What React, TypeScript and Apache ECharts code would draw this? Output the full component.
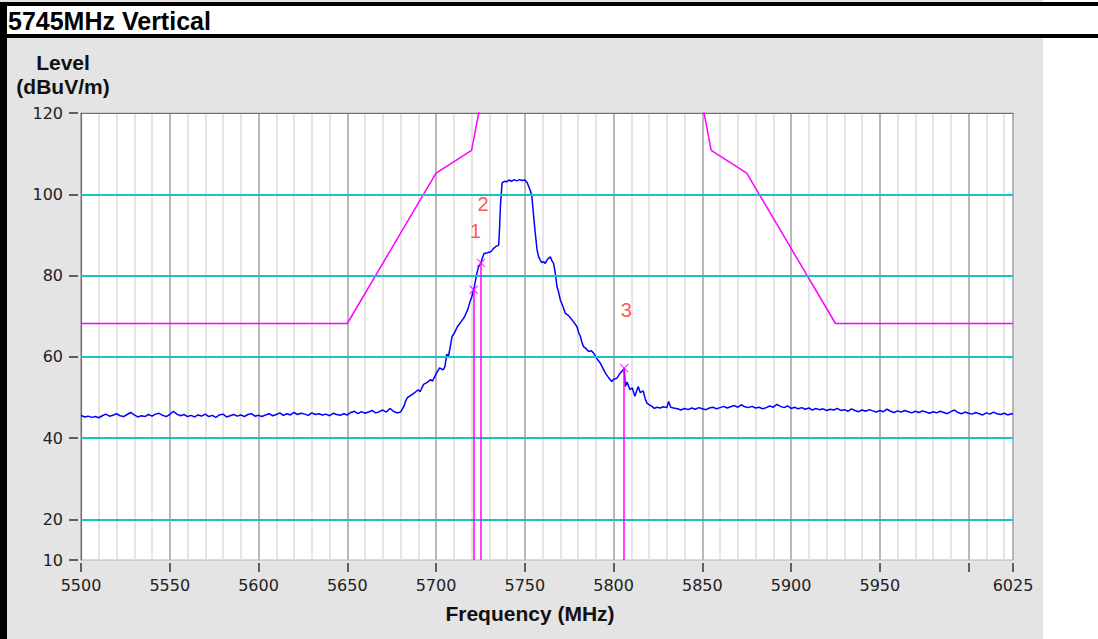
import React, { useEffect, useRef } from "react";
import * as echarts from "echarts";

const titleText = "5745MHz Vertical";
const yNameLines = ["Level", "(dBuV/m)"];
const xName = "Frequency (MHz)";

const xLabelValues = [5500, 5550, 5600, 5650, 5700, 5750, 5800, 5850, 5900, 5950, 6025];
const xTickValues = [5500, 5550, 5600, 5650, 5700, 5750, 5800, 5850, 5900, 5950, 6000, 6025];
const yLabelValues = [10, 20, 40, 60, 80, 100, 120];
const cyanLevels = [20, 40, 60, 80, 100];

const limitFreq = [5500, 5650, 5700, 5720, 5725, 5850, 5855, 5875, 5925, 6025];
const limitLevel = [68.2, 68.2, 105.2, 110.8, 122.2, 122.2, 110.8, 105.2, 68.2, 68.2];

const markerNames = ["1", "2", "3"];
const markerFreq = [5721.2, 5725.3, 5806.0];
const markerLevel = [76.5, 83.1, 57.2];

const trace: [number, number][] = [
  [5500, 45.6], [5502, 45.2], [5504, 45.4], [5506, 45.1], [5508, 45.3], [5510, 45.0], [5512, 45.5], [5514, 45.9],
  [5516, 45.4], [5518, 45.6], [5520, 46.0], [5522, 45.5], [5524, 45.3], [5526, 45.8], [5528, 46.3], [5530, 45.7],
  [5532, 45.2], [5534, 45.5], [5536, 45.3], [5538, 45.8], [5540, 45.4], [5542, 45.9], [5544, 46.1], [5546, 45.6],
  [5548, 45.3], [5550, 45.8], [5552, 46.6], [5554, 45.9], [5556, 45.5], [5558, 45.8], [5560, 45.3], [5562, 45.6],
  [5564, 45.2], [5566, 45.7], [5568, 45.4], [5570, 45.9], [5572, 45.3], [5574, 45.6], [5576, 45.1], [5578, 45.7],
  [5580, 45.9], [5582, 45.2], [5584, 45.5], [5586, 45.8], [5588, 45.4], [5590, 45.7], [5592, 45.3], [5594, 45.8],
  [5596, 46.0], [5598, 45.4], [5600, 45.6], [5602, 45.3], [5604, 45.7], [5606, 46.0], [5608, 45.5], [5610, 45.8],
  [5612, 46.2], [5614, 45.6], [5616, 46.0], [5618, 45.7], [5620, 46.3], [5622, 45.8], [5624, 46.1], [5626, 45.9],
  [5628, 45.6], [5630, 46.2], [5632, 45.8], [5634, 46.0], [5636, 45.7], [5638, 45.9], [5640, 45.5], [5642, 46.1],
  [5644, 45.8], [5646, 45.6], [5648, 46.0], [5650, 45.7], [5652, 46.3], [5654, 46.6], [5656, 46.0], [5658, 46.5],
  [5660, 46.1], [5662, 46.4], [5664, 46.8], [5666, 46.2], [5668, 46.5], [5670, 46.9], [5672, 46.4], [5674, 47.3],
  [5676, 46.6], [5678, 46.2], [5680, 46.4],
  [5682, 47.9], [5683, 49.3], [5684, 50.0], [5686, 50.6], [5688, 51.2], [5690, 51.9], [5691, 51.4], [5693, 53.2],
  [5695, 53.7], [5697, 54.4], [5698, 54.0], [5700, 55.8], [5702, 57.3], [5704, 56.8], [5705, 57.6], [5706, 60.6],
  [5707, 60.2], [5708, 62.4], [5709, 65.0], [5710, 65.6], [5712, 67.4], [5714, 68.6], [5716, 69.8], [5718, 71.8],
  [5719, 73.4], [5720, 74.6], [5721.2, 76.5], [5722, 78.3], [5723, 80.6], [5724, 82.2], [5725.3, 83.1], [5726, 84.2],
  [5727, 85.4], [5729, 85.6], [5731, 85.9], [5732, 86.5], [5733.5, 87.1], [5735.3, 87.5], [5735.8, 92.0], [5736.3, 97.5],
  [5737.2, 102.8], [5738.5, 103.2], [5740, 103.1], [5741, 103.5], [5742.5, 103.2], [5744, 103.6], [5745.5, 103.3],
  [5747, 103.6], [5748.5, 103.4], [5750, 103.5], [5751.3, 102.9], [5752.2, 101.9], [5753.2, 100.8], [5754, 99.4],
  [5755, 94.5], [5755.9, 90.4], [5756.9, 86.3], [5757.8, 84.6], [5758.7, 83.8], [5759.6, 83.2], [5760.6, 83.4],
  [5761.5, 83.0], [5762.5, 83.8], [5763.5, 84.3], [5764.4, 84.6], [5765.3, 83.6], [5766.2, 83.0], [5767.2, 80.5],
  [5768.1, 77.3], [5769, 76.0], [5770, 74.0], [5771.5, 72.4], [5772.8, 70.7], [5774.5, 70.2], [5776.6, 69.1],
  [5778, 68.3], [5779.4, 67.4], [5780.3, 66.0], [5781.3, 65.0], [5782.2, 63.5], [5783.1, 62.5], [5784.5, 62.0],
  [5786, 61.3], [5787.5, 61.5], [5788.8, 60.9], [5790.5, 59.6], [5792.6, 58.4], [5794, 57.2], [5795.4, 56.0],
  [5797, 55.0], [5798.2, 54.3], [5799, 53.9], [5800, 54.5], [5801.8, 54.7], [5803.7, 56.0], [5805, 56.5],
  [5806, 57.2], [5806.6, 52.7], [5807.6, 53.8], [5809.2, 51.9], [5810.5, 52.4], [5812, 50.3], [5813.9, 52.7],
  [5815, 51.2], [5816.7, 51.6], [5817.8, 49.7], [5818.8, 48.6], [5820, 48.2], [5821.6, 47.8], [5823, 47.3],
  [5824.5, 47.6], [5826.3, 47.4], [5828, 47.7], [5830, 47.5], [5831, 49.0], [5832.2, 47.6], [5833.8, 47.4],
  [5836, 47.2], [5838, 46.9], [5840, 47.3], [5842, 47.0], [5844, 47.4], [5846, 47.1], [5848, 47.5], [5850, 47.2],
  [5852, 47.0], [5854, 47.4], [5856, 47.6], [5858, 47.2], [5860, 47.5], [5862, 47.8], [5864, 47.4], [5866, 47.7],
  [5868, 48.0], [5870, 47.6], [5872, 48.2], [5874, 47.7], [5876, 47.5], [5878, 47.8], [5880, 47.4], [5882, 47.6],
  [5884, 47.2], [5886, 47.5], [5888, 47.9], [5890, 47.6], [5892, 48.3], [5894, 47.8], [5896, 47.5], [5898, 47.9],
  [5900, 47.3], [5902, 47.6], [5904, 47.2], [5906, 47.5], [5908, 47.1], [5910, 47.4], [5912, 46.9], [5914, 47.3],
  [5916, 47.0], [5918, 47.2], [5920, 46.8], [5922, 47.1], [5924, 46.9], [5926, 47.3], [5928, 46.8], [5930, 47.0],
  [5932, 46.6], [5934, 47.2], [5936, 46.8], [5938, 46.5], [5940, 46.9], [5942, 46.6], [5944, 47.0], [5946, 46.7],
  [5948, 46.4], [5950, 46.8], [5952, 46.5], [5954, 47.1], [5956, 46.6], [5958, 46.3], [5960, 46.7], [5962, 46.4],
  [5964, 46.8], [5966, 46.5], [5968, 46.2], [5970, 46.6], [5972, 46.3], [5974, 46.7], [5976, 46.4], [5978, 46.1],
  [5980, 46.5], [5982, 46.2], [5984, 46.6], [5986, 46.3], [5988, 46.0], [5990, 46.5], [5992, 46.9], [5994, 46.3],
  [5996, 46.0], [5998, 46.4], [6000, 46.1], [6002, 45.9], [6004, 46.3], [6006, 46.0], [6008, 45.7], [6010, 46.2],
  [6012, 45.9], [6014, 46.4], [6016, 46.0], [6018, 45.8], [6020, 46.1], [6022, 45.7], [6024, 46.0], [6025, 45.9],
];

const X_MIN = 5500;
const X_MAX = 6025;
const Y_MIN = 10;
const Y_MAX = 120;

const tickFont = "'DejaVu Sans', sans-serif";
const boldFont = "'Liberation Sans', Arial, sans-serif";

export default function App() {
  const ref = useRef<HTMLDivElement>(null);

  useEffect(() => {
    if (!ref.current) return;
    const chart = echarts.init(ref.current, undefined, { renderer: "svg" });
    const hiddenX = {
      type: "value",
      min: X_MIN,
      max: X_MAX,
      axisLine: { show: false },
      axisTick: { show: false },
      axisLabel: { show: false },
    };
    chart.setOption({
      animation: false,
      grid: {
        left: 81,
        top: 113,
        width: 932,
        height: 447,
        show: true,
        backgroundColor: "#ffffff",
        borderColor: "#b4b4b4",
        borderWidth: 1,
      },
      xAxis: [
        {
          type: "value",
          min: X_MIN,
          max: X_MAX,
          position: "bottom",
          offset: 3,
          axisLine: { show: false },
          axisTick: {
            show: true,
            customValues: xTickValues,
            length: 9,
            lineStyle: { color: "#333", width: 1.5 },
          },
          axisLabel: {
            customValues: xLabelValues,
            formatter: (v: number) => String(v),
            fontSize: 16,
            fontFamily: tickFont,
            color: "#222",
            margin: 14,
          },
          splitLine: { show: false },
        },
        {
          ...hiddenX,
          interval: 10,
          splitLine: { show: true, lineStyle: { color: "#dcdcdc", width: 1.5 } },
        },
        {
          ...hiddenX,
          interval: 50,
          splitLine: { show: true, lineStyle: { color: "#a9a9a9", width: 1.5 } },
        },
        {
          ...hiddenX,
          position: "top",
          axisLine: { show: true, lineStyle: { color: "#6e6e6e", width: 1.2 } },
          splitLine: { show: false },
        },
      ],
      yAxis: [
        {
          type: "value",
          min: Y_MIN,
          max: Y_MAX,
          interval: 10,
          position: "left",
          offset: 3,
          axisLine: { show: false },
          axisTick: {
            show: true,
            customValues: yLabelValues,
            length: 9,
            lineStyle: { color: "#333", width: 1.5 },
          },
          axisLabel: {
            customValues: yLabelValues,
            formatter: (v: number) => String(v),
            fontSize: 16,
            fontFamily: tickFont,
            color: "#222",
            margin: 15,
          },
          splitLine: { show: false },
        },
        {
          type: "value",
          min: Y_MIN,
          max: Y_MAX,
          position: "left",
          offset: 0,
          axisLine: { show: true, lineStyle: { color: "#6e6e6e", width: 1.2 } },
          axisTick: { show: false },
          axisLabel: { show: false },
          splitLine: { show: false },
        },
      ],
      graphic: [
        {
          type: "text",
          left: 8,
          top: 8,
          style: {
            text: titleText,
            font: `bold 25px ${boldFont}`,
            fill: "#000",
          },
        },
        ...yNameLines.map((t, i) => ({
          type: "text",
          x: 63,
          y: 62 + i * 24,
          style: {
            text: t,
            font: `bold 21px ${boldFont}`,
            fill: "#111",
            align: "center",
            verticalAlign: "middle",
          },
        })),
        {
          type: "text",
          x: 530,
          y: 613,
          style: {
            text: xName,
            font: `bold 21px ${boldFont}`,
            fill: "#111",
            align: "center",
            verticalAlign: "middle",
          },
        },
      ],
      series: [
        {
          type: "line",
          name: "Cyan",
          xAxisIndex: 0,
          yAxisIndex: 0,
          data: [],
          z: 1,
          markLine: {
            silent: true,
            symbol: "none",
            label: { show: false },
            lineStyle: { type: "solid", color: "#17c4c4", width: 1.8 },
            data: cyanLevels.map((v) => ({ yAxis: v })),
          },
        },
        {
          type: "line",
          name: "Limit",
          xAxisIndex: 0,
          yAxisIndex: 0,
          data: limitFreq.map((f, i) => [f, limitLevel[i]]),
          showSymbol: false,
          symbol: "none",
          clip: true,
          itemStyle: { color: "#ff00ff" },
          lineStyle: { color: "#ff00ff", width: 1.5, opacity: 1 },
          z: 2,
        },
        {
          type: "line",
          name: "Level",
          xAxisIndex: 0,
          yAxisIndex: 0,
          data: trace,
          showSymbol: false,
          symbol: "none",
          clip: true,
          itemStyle: { color: "#0000ff" },
          lineStyle: { color: "#0000ff", width: 1.5 },
          z: 4,
        },
        {
          type: "scatter",
          name: "Markers",
          xAxisIndex: 0,
          yAxisIndex: 0,
          data: markerFreq.map((f, i) => ({ value: [f, markerLevel[i]], name: markerNames[i] })),
          symbol: "path://M0,0L10,10M10,0L0,10",
          symbolSize: 8,
          itemStyle: { color: "transparent", borderColor: "#ff00ff", borderWidth: 1.2 },
          label: {
            show: true,
            position: "top",
            distance: 44,
            offset: [2, 0],
            formatter: "{b}",
            color: "#ff2a2a",
            fontSize: 20,
            fontFamily: boldFont,
          },
          z: 5,
          markLine: {
            silent: true,
            symbol: "none",
            label: { show: false },
            lineStyle: { type: "solid", color: "#ff00ff", width: 1.5 },
            data: markerFreq.map((f, i) => [
              { coord: [f, markerLevel[i]] },
              { coord: [f, Y_MIN] },
            ]),
          },
        },
      ],
    });
    return () => chart.dispose();
  }, []);

  return (
    <div
      style={{
        position: "absolute",
        left: 0,
        top: 0,
        width: 1098,
        height: 639,
        background: "#ffffff",
        overflow: "hidden",
      }}
    >
      <div style={{ position: "absolute", left: 0, top: 0, width: 1043, height: 2, background: "#e4e4e4" }} />
      <div style={{ position: "absolute", left: 0, top: 2, width: 1098, height: 4, background: "#000" }} />
      <div style={{ position: "absolute", left: 0, top: 34, width: 1098, height: 4, background: "#000" }} />
      <div style={{ position: "absolute", left: 0, top: 2, width: 7, height: 637, background: "#000" }} />
      <div style={{ position: "absolute", left: 7, top: 38, width: 1036, height: 601, background: "#e4e4e4" }} />
      <div ref={ref} style={{ position: "absolute", left: 0, top: 0, width: 1098, height: 639 }} />
    </div>
  );
}
